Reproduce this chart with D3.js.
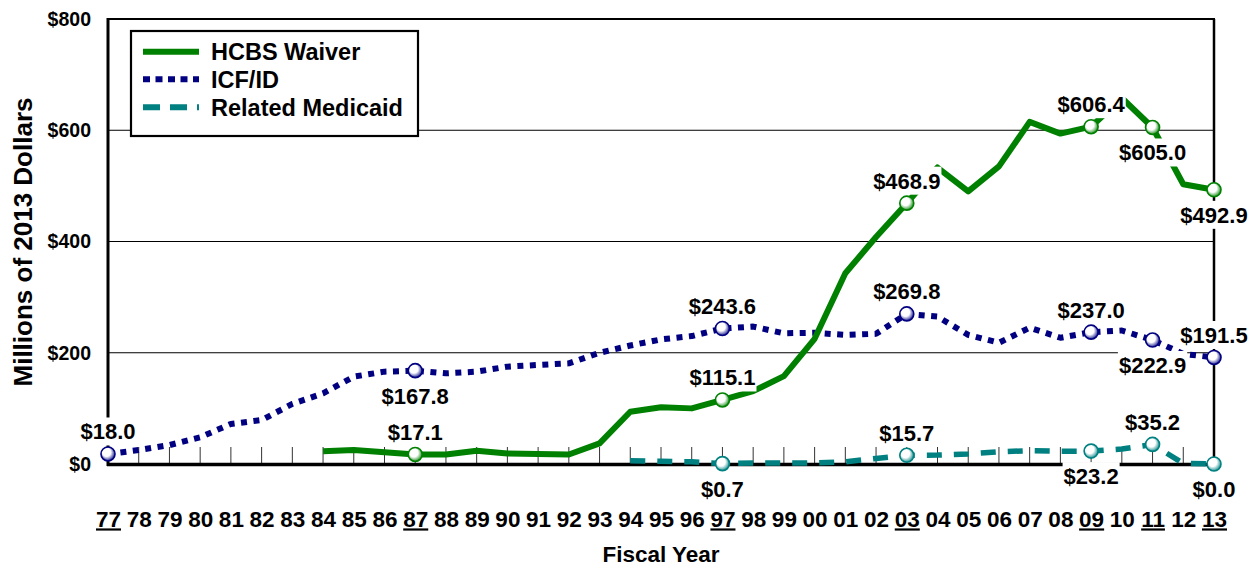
<!DOCTYPE html>
<html><head><meta charset="utf-8">
<script src="https://cdn.jsdelivr.net/npm/d3@7"></script>
<style>
body{margin:0;background:#fff}
svg{display:block}
text{font-family:"Liberation Sans",Arial,sans-serif;font-weight:bold;fill:#000}
</style>
</head><body>
<svg id="c" width="1257" height="570"></svg>
<script>
// ---- data ----
const years = ['77','78','79','80','81','82','83','84','85','86','87','88','89','90','91','92','93','94','95','96','97','98','99','00','01','02','03','04','05','06','07','08','09','10','11','12','13'];
const hcbs = [null,null,null,null,null,null,null,23,25,21,17.1,17,24,19,18,17,37,94,102,100,115.1,131,158,225,343,408,468.9,533,490,535,615,594,606.4,658,605.0,503,492.9];
const icf = [18.0,25,34,48,72,79,108,127,157,166,167.8,163,166,175,178,181,200,213,224,230,243.6,247,235,236,232,234,269.8,265,232,218,245,227,237.0,240,222.9,198,191.5];
const related = [null,null,null,null,null,null,null,null,null,null,null,null,null,null,null,null,null,6,5,4,0.7,2,2,2,4,10,15.7,16,18,22,24,23,23.2,27,35.2,1,0.0];
const yTicks = [0,200,400,600,800];
const underlinedYears = ['77','87','97','03','09','11','13'];
const hcbsLabelled = [['87','above'],['97','above'],['03','above'],['09','above'],['11','below'],['13','below']];
const icfLabelled = [['77','above'],['87','below'],['97','above'],['03','above'],['09','above'],['11','below'],['13','above']];
const relatedLabelled = [['97','below'],['03','above'],['09','below'],['11','above'],['13','below']];
const seriesNames = ['HCBS Waiver','ICF/ID','Related Medicaid'];

// ---- setup ----
const svg = d3.select('#c');
const L = 108, R = 1214, T = 19, B = 464;
const x = d3.scalePoint().domain(years).range([L, R]);
const y = d3.scaleLinear().domain([0, 800]).range([B, T]);

const series = [
  {name: seriesNames[2], values: related, color: '#008080', width: 5.5, dash: '15,12', labels: relatedLabelled, id: 'g3'},
  {name: seriesNames[1], values: icf, color: '#000080', width: 6, dash: '6,6.5', labels: icfLabelled, id: 'g2'},
  {name: seriesNames[0], values: hcbs, color: '#008000', width: 6, dash: null, labels: hcbsLabelled, id: 'g1'}
];

// gradients for markers
const defs = svg.append('defs');
series.forEach(s => {
  const g = defs.append('radialGradient').attr('id', s.id).attr('cx', '0.45').attr('cy', '0.45').attr('r', '0.6').attr('fx', '0.35').attr('fy', '0.3');
  g.append('stop').attr('offset', '0').attr('stop-color', '#fff');
  g.append('stop').attr('offset', '0.5').attr('stop-color', '#fff');
  g.append('stop').attr('offset', '1').attr('stop-color', s.color);
});

// gridlines
svg.append('g').selectAll('line').data(yTicks.filter(d => d > 0 && d < 800)).join('line')
  .attr('x1', L).attr('x2', R).attr('y1', d => y(d)).attr('y2', d => y(d))
  .attr('stroke', '#000').attr('stroke-width', 1);

// small vertical ticks inside plot
svg.append('g').selectAll('line').data(years.slice(1)).join('line')
  .attr('x1', d => x(d)).attr('x2', d => x(d)).attr('y1', B).attr('y2', B - 17)
  .attr('stroke', '#333').attr('stroke-width', 1);

// frame
svg.append('line').attr('x1', L).attr('x2', R + 1).attr('y1', T).attr('y2', T).attr('stroke', '#000').attr('stroke-width', 2);
svg.append('line').attr('x1', R).attr('x2', R).attr('y1', T).attr('y2', B).attr('stroke', '#000').attr('stroke-width', 2.5);
svg.append('line').attr('x1', L).attr('x2', L).attr('y1', T - 1).attr('y2', B + 2).attr('stroke', '#000').attr('stroke-width', 3);
svg.append('line').attr('x1', L - 1).attr('x2', R + 1).attr('y1', B + 0.5).attr('y2', B + 0.5).attr('stroke', '#000').attr('stroke-width', 3.5);

// y axis labels
const yAxis = svg.append('g').attr('transform', `translate(${L},0)`)
  .call(d3.axisLeft(y).tickValues(yTicks).tickFormat(d => '$' + d).tickSize(0).tickPadding(17));
yAxis.select('.domain').remove();
yAxis.selectAll('text').style('font-size', '19.5px').style('font-family', '"Liberation Sans",Arial,sans-serif').style('font-weight', 'bold').attr('fill', '#000');

// x axis labels
const xAxis = svg.append('g').attr('transform', `translate(0,${B})`)
  .call(d3.axisBottom(x).tickSize(0).tickPadding(47));
xAxis.select('.domain').remove();
xAxis.selectAll('text').style('font-size', '22.5px').style('font-family', '"Liberation Sans",Arial,sans-serif').style('font-weight', 'bold').attr('fill', '#000');
xAxis.selectAll('.tick').each(function(d) {
  if (underlinedYears.includes(d)) {
    const t = d3.select(this).select('text');
    const w = t.node().getComputedTextLength();
    d3.select(this).append('line').attr('x1', -w / 2).attr('x2', w / 2).attr('y1', 65.5).attr('y2', 65.5)
      .attr('stroke', '#000').attr('stroke-width', 2.2);
  }
});

// axis titles
svg.append('text').attr('transform', 'translate(31.5,242) rotate(-90)').attr('text-anchor', 'middle')
  .style('font-size', '26px').text('Millions of 2013 Dollars');
svg.append('text').attr('x', 661).attr('y', 562).attr('text-anchor', 'middle')
  .style('font-size', '22.5px').text('Fiscal Year');

// lines
const line = d3.line().defined(d => d.v != null).x(d => x(d.k)).y(d => y(d.v));
series.forEach(s => {
  const pts = years.map((k, i) => ({k, v: s.values[i]}));
  svg.append('path').datum(pts).attr('d', line).attr('fill', 'none')
    .attr('stroke', s.color).attr('stroke-width', s.width)
    .attr('stroke-dasharray', s.dash).attr('stroke-linejoin', 'round');
});

// data labels
const lblG = svg.append('g');
series.forEach(s => {
  s.labels.forEach(([k, pos]) => {
    const v = s.values[years.indexOf(k)];
    const px = x(k), py = y(v);
    const by = pos === 'above' ? py - 14.5 : py + 33;
    const g = lblG.append('g');
    const t = g.append('text').attr('x', px).attr('y', by).attr('text-anchor', 'middle')
      .style('font-size', '22px').text('$' + v.toFixed(1));
    const w = t.node().getComputedTextLength();
    g.insert('rect', 'text').attr('x', px - w / 2 - 1).attr('y', by - 22).attr('width', w + 2).attr('height', 28).attr('fill', '#fff');
  });
});

// markers
series.forEach(s => {
  svg.append('g').selectAll('circle').data(s.labels).join('circle')
    .attr('cx', d => x(d[0])).attr('cy', d => y(s.values[years.indexOf(d[0])]))
    .attr('r', 7).attr('fill', `url(#${s.id})`).attr('stroke', s.color).attr('stroke-width', 1.6);
});

// legend
const lg = svg.append('g');
lg.append('rect').attr('x', 131).attr('y', 31).attr('width', 287).attr('height', 105)
  .attr('fill', '#fff').attr('stroke', '#000').attr('stroke-width', 2.2);
const legItems = [series[2], series[1], series[0]];
const legY = [51.7, 79.3, 107.3];
legItems.forEach((s, i) => {
  lg.append('line').attr('x1', 143).attr('x2', 199).attr('y1', legY[i]).attr('y2', legY[i])
    .attr('stroke', s.color).attr('stroke-width', 6)
    .attr('stroke-dasharray', s.dash ? (s.id === 'g3' ? '17,10' : '7,5.5') : null);
  lg.append('text').attr('x', 211).attr('y', legY[i] + 8.5).style('font-size', '23.5px').text(s.name);
});
</script>
</body></html>
